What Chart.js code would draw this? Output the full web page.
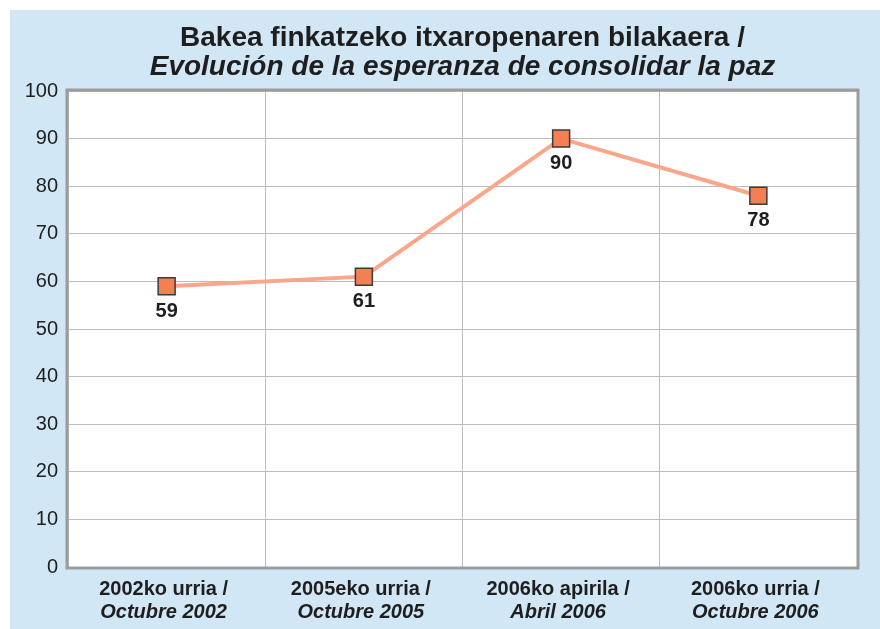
<!DOCTYPE html>
<html>
<head>
<meta charset="utf-8">
<script src="https://cdn.jsdelivr.net/npm/chart.js@4/dist/chart.umd.min.js"></script>
<style>
    body { margin: 0; background: #ffffff; }
    .panel {
        position: absolute;
        left: 10px;
        top: 10px;
        width: 870px;
        height: 619px;
        background: #d2e7f5;
    }
</style>
</head>
<body>
<div class="panel"><canvas id="chart" width="870" height="619"></canvas></div>
<script>
// Chart data
const titleLines = ['Bakea finkatzeko itxaropenaren bilakaera /', 'Evolución de la esperanza de consolidar la paz'];
const categoriesEu = ['2002ko urria /', '2005eko urria /', '2006ko apirila /', '2006ko urria /'];
const categoriesEs = ['Octubre 2002', 'Octubre 2005', 'Abril 2006', 'Octubre 2006'];
const hopeValues = [59, 61, 90, 78];
const yTicks = [0, 10, 20, 30, 40, 50, 60, 70, 80, 90, 100];

const FONT = "'Liberation Sans', Arial, sans-serif";

// Draws title, two-line category labels, value labels and plot frame
const decorations = {
    id: 'decorations',
    afterDatasetsDraw(chart) {
        const ctx = chart.ctx;
        const area = chart.chartArea;
        const xScale = chart.scales.x;
        const cx = (area.left + area.right) / 2;

        ctx.save();
        ctx.fillStyle = '#1e1e1e';
        ctx.textAlign = 'center';
        ctx.textBaseline = 'middle';

        // Title
        ctx.font = 'bold 28px ' + FONT;
        ctx.fillText(titleLines[0], cx, 28);
        ctx.font = 'italic bold 28px ' + FONT;
        ctx.fillText(titleLines[1], cx, 57);

        // Category labels
        categoriesEu.forEach((label, i) => {
            const x = xScale.getPixelForTick(i) - 3;
            ctx.font = 'bold 20px ' + FONT;
            ctx.fillText(label, x, area.bottom + 22);
            ctx.font = 'italic bold 20px ' + FONT;
            ctx.fillText(categoriesEs[i], x, area.bottom + 45);
        });

        // Value labels under the points
        const meta = chart.getDatasetMeta(0);
        ctx.font = 'bold 20px ' + FONT;
        meta.data.forEach((pt, i) => {
            ctx.fillText(String(hopeValues[i]), pt.x, pt.y + 25);
        });

        ctx.restore();
    },
    beforeDatasetsDraw(chart) {
        const ctx = chart.ctx;
        const area = chart.chartArea;
        ctx.save();
        ctx.strokeStyle = '#9c9c9c';
        ctx.lineWidth = 3;
        ctx.strokeRect(area.left - 1, area.top - 1, area.right - area.left + 2, area.bottom - area.top + 2);
        ctx.restore();
    },
    beforeDraw(chart) {
        const ctx = chart.ctx;
        const area = chart.chartArea;
        ctx.save();
        ctx.fillStyle = '#ffffff';
        ctx.fillRect(area.left, area.top, area.right - area.left, area.bottom - area.top);
        ctx.restore();
    }
};

new Chart(document.getElementById('chart'), {
    type: 'line',
    data: {
        labels: categoriesEu,
        datasets: [{
            data: hopeValues,
            borderColor: '#f9a68a',
            borderWidth: 4,
            pointStyle: 'rect',
            pointRadius: 12,
            pointHoverRadius: 12,
            pointBackgroundColor: '#f47f55',
            pointBorderColor: '#3a3a3a',
            pointBorderWidth: 1.5,
            tension: 0
        }]
    },
    options: {
        responsive: false,
        animation: false,
        events: [],
        layout: {
            padding: { top: 81, right: 23, bottom: 0, left: 0 }
        },
        plugins: {
            legend: { display: false },
            tooltip: { enabled: false }
        },
        scales: {
            x: {
                offset: true,
                grid: {
                    offset: true,
                    color: '#bcbcbc',
                    lineWidth: 1,
                    drawTicks: false
                },
                border: { display: false },
                ticks: { display: false },
                afterFit(scale) { scale.height = 62; }
            },
            y: {
                min: 0,
                max: 100,
                afterBuildTicks(scale) {
                    scale.ticks = yTicks.map(v => ({ value: v }));
                },
                grid: {
                    color: '#bcbcbc',
                    lineWidth: 1,
                    drawTicks: false
                },
                border: { display: false },
                ticks: {
                    padding: 10,
                    color: '#1e1e1e',
                    font: { family: FONT, size: 20 }
                },
                afterFit(scale) { scale.width = 58; }
            }
        }
    },
    plugins: [decorations]
});
</script>
</body>
</html>
